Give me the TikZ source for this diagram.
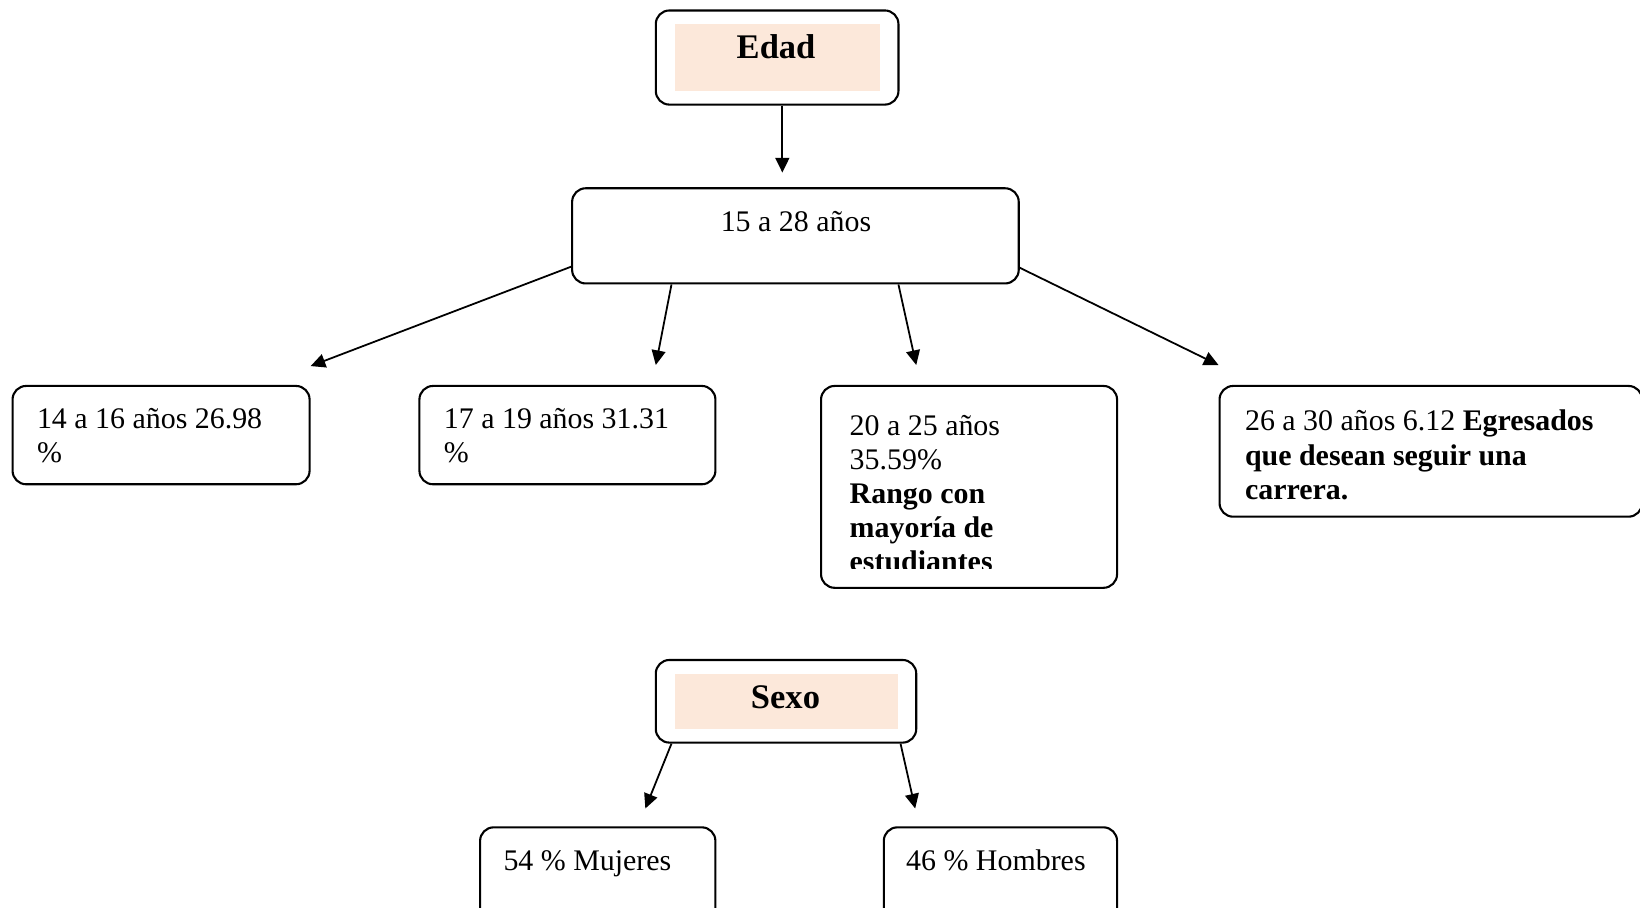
\documentclass[tikz,border=0pt]{standalone}
\usepackage{fontspec}
\setmainfont{Liberation Serif}
\usetikzlibrary{arrows.meta,calc,fit}
\definecolor{peach}{HTML}{FCE8DA}
\newcommand{\mylines}[1]{\begin{tabular}[t]{@{}l@{}}#1\end{tabular}}
\begin{document}
\begin{tikzpicture}[x=0.5pt,y=-0.5pt,
  box/.style={draw, line width=1pt, rounded corners=6.5pt, inner sep=0pt},
  fillbox/.style={fill=peach, inner sep=0pt},
  txt/.style={anchor=base west, inner sep=0pt, font=\fontsize{14.3}{16.3}\selectfont},
  ctxt/.style={anchor=base, inner sep=0pt, font=\fontsize{14.3}{16.3}\selectfont},
  ttl/.style={anchor=base, inner sep=0pt, font=\fontsize{16.5}{19}\selectfont\bfseries},
  arr/.style={line width=0.85pt, -{Triangle[length=7pt,width=6.6pt]}}]
\useasboundingbox (0,0) rectangle (1568,868);
\clip (0,0) rectangle (1568,868);

% corner coordinates
\coordinate (e1) at (627,10);   \coordinate (e2) at (859,100);
\coordinate (ef1) at (645,23);  \coordinate (ef2) at (841,87);
\coordinate (a1) at (547,180);  \coordinate (a2) at (974,271);
\coordinate (b1a) at (12,369);  \coordinate (b1b) at (296,463);
\coordinate (b2a) at (401,369); \coordinate (b2b) at (684,463);
\coordinate (b3a) at (785,369); \coordinate (b3b) at (1068,562);
\coordinate (b4a) at (1166,369);\coordinate (b4b) at (1570,494);
\coordinate (s1) at (627,631);  \coordinate (s2) at (876,710);
\coordinate (sf1) at (645,644); \coordinate (sf2) at (859,697);
\coordinate (m1) at (459,791);  \coordinate (m2) at (684,900);
\coordinate (h1) at (845,791);  \coordinate (h2) at (1068,900);

% Edad
\node[box, fit=(e1)(e2)] (edad) {};
\node[fillbox, fit=(ef1)(ef2)] (edadfill) {};
\node[ttl] (edadtxt) at (742,56) {Edad};

% 15 a 28
\node[box, fit=(a1)(a2)] (age) {};
\node[ctxt] (agetxt) at (761,221) {15 a 28 años};

% children
\node[box, fit=(b1a)(b1b)] (r1) {};
\node[txt] (r1txt) at (35,410) {\mylines{14 a 16 años 26.98\\ \%}};

\node[box, fit=(b2a)(b2b)] (r2) {};
\node[txt] (r2txt) at (424,410) {\mylines{17 a 19 años 31.31\\ \%}};

\node[box, fit=(b3a)(b3b)] (r3) {};
\begin{scope}
  \clip (790,375) rectangle (1060,544);
  \node[txt] (r3txt) at (812,416) {\mylines{20 a 25 años\\ 35.59\%\\ \textbf{Rango con}\\ \textbf{mayoría de}\\ \textbf{estudiantes}}};
\end{scope}

\node[box, fit=(b4a)(b4b)] (r4) {};
\node[txt] (r4txt) at (1190,412) {\mylines{26 a 30 años 6.12 \textbf{Egresados}\\ \textbf{que desean seguir una}\\ \textbf{carrera.}}};

% Sexo
\node[box, fit=(s1)(s2)] (sexo) {};
\node[fillbox, fit=(sf1)(sf2)] (sexofill) {};
\node[ttl] (sexotxt) at (751,677) {Sexo};

\node[box, fit=(m1)(m2)] (muj) {};
\node[txt] (mujtxt) at (481,832) {54 \% Mujeres};
\node[box, fit=(h1)(h2)] (hom) {};
\node[txt] (homtxt) at (866,832) {46 \% Hombres};

% arrow tips
\coordinate (t0) at (748,165);
\coordinate (t1) at (297,350);
\coordinate (t2) at (627,349);
\coordinate (t3) at (876,349);
\coordinate (t4) at (1165,349);
\coordinate (t5) at (617,773);
\coordinate (t6) at (875,773);

% connectors
\draw[arr] ($(edad.south)+(5,0)$) -- (t0);
\draw[arr] ($(age.south west)+(0,-17)$) -- (t1);
\draw[arr] ($(age.south west)+(96,0)$) -- (t2);
\draw[arr] ($(age.south west)+(313,0)$) -- (t3);
\draw[arr] ($(age.south east)+(0,-16)$) -- (t4);
\draw[arr] ($(sexo.south west)+(16,0)$) -- (t5);
\draw[arr] ($(sexo.south east)+(-16,0)$) -- (t6);
\end{tikzpicture}
\end{document}
